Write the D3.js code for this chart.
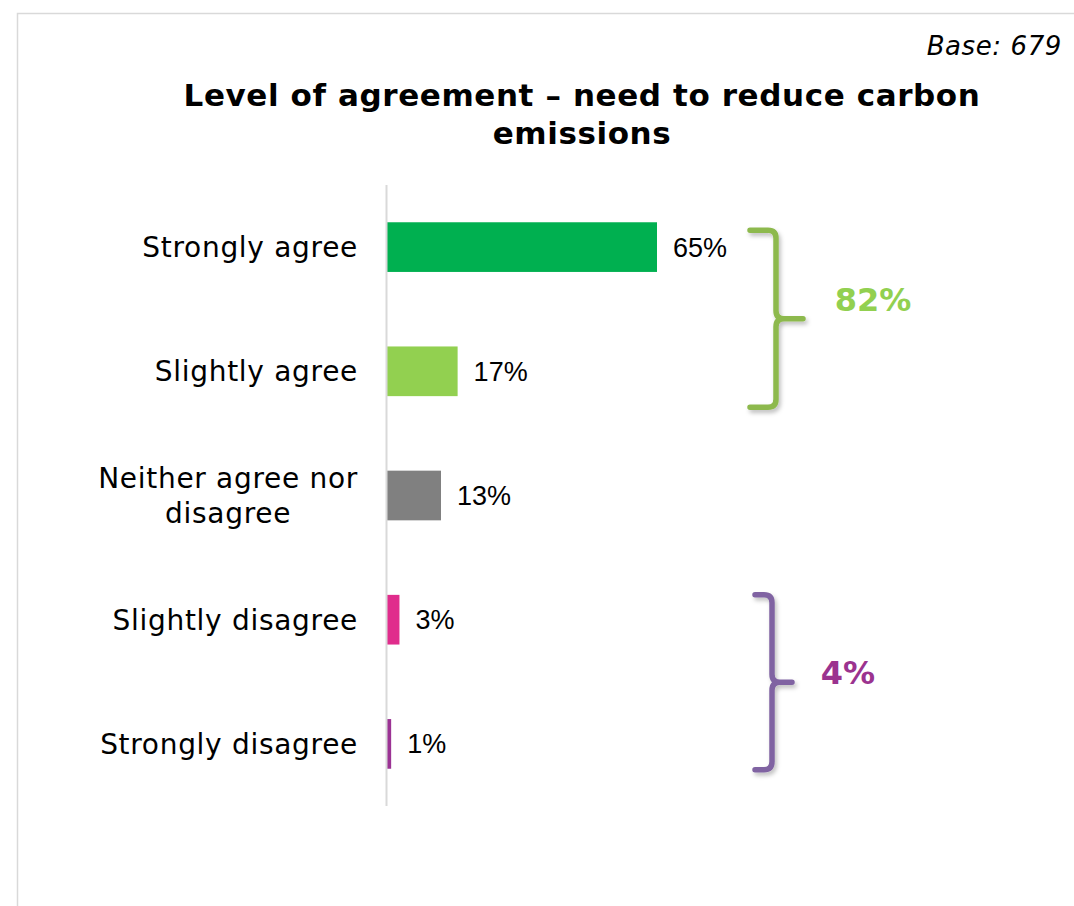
<!DOCTYPE html>
<html><head><meta charset="utf-8">
<script src="https://cdn.jsdelivr.net/npm/d3@7"></script>
<style>body{margin:0;background:#fff}svg{display:block}</style>
</head><body>
<svg id="c" width="1074" height="906"></svg>
<script>
const categories = ["Strongly agree","Slightly agree","Neither agree nor|disagree","Slightly disagree","Strongly disagree"];
const values = [65,17,13,3,1];
const barColors = ["#00B050","#92D050","#808080","#E02C8C","#9B3394"];
const groups = [
  {label:"82%", from:0, to:1, color:"#8DB94E", textColor:"#92D050"},
  {label:"4%", from:3, to:4, color:"#8064A2", textColor:"#9B338F"}
];
const title = ["Level of agreement \u2013 need to reduce carbon","emissions"];
const baseText = "Base: 679";

const svg = d3.select("#c");
// frame
svg.append("path").attr("d","M17.5,906 V13.5 H1074").attr("fill","none").attr("stroke","#d9d9d9").attr("stroke-width",1.5);

const x = d3.scaleLinear().domain([0,65]).range([387,657]);
const y = d3.scaleBand().domain(d3.range(categories.length)).range([185,806]).paddingInner(0.6).paddingOuter(0.3);

svg.append("text").attr("x",1062).attr("y",55).attr("text-anchor","end")
  .attr("font-family","DejaVu Sans").attr("font-style","italic").attr("font-size",26).attr("letter-spacing",0.6).text(baseText);

svg.selectAll(".t").data(title).enter().append("text")
  .attr("x",582).attr("y",(d,i)=>106+i*38).attr("text-anchor","middle")
  .attr("font-family","DejaVu Sans").attr("font-weight","bold").attr("font-size",31).attr("letter-spacing",0.6).text(d=>d);

// bars
svg.selectAll(".bar").data(values).enter().append("rect")
  .attr("x",x(0)).attr("y",(d,i)=>y(i)).attr("width",d=>x(d)-x(0)).attr("height",y.bandwidth())
  .attr("fill",(d,i)=>barColors[i]);

// axis line
svg.append("line").attr("x1",386.5).attr("x2",386.5).attr("y1",185).attr("y2",806).attr("stroke","#d9d9d9").attr("stroke-width",2);

// value labels
svg.selectAll(".val").data(values).enter().append("text")
  .attr("x",d=>x(d)+16).attr("y",(d,i)=>y(i)+y.bandwidth()/2).attr("dy","0.35em")
  .attr("font-family","Liberation Sans").attr("font-size",27).text(d=>d+"%");

// category labels
categories.forEach((c,i)=>{
  const lines = c.split("|");
  const cy = y(i)+y.bandwidth()/2;
  const g = svg.append("g");
  const t = g.selectAll("text").data(lines).enter().append("text")
    .attr("font-family","DejaVu Sans").attr("font-size",28).attr("letter-spacing",0.7)
    .attr("y",(d,j)=>cy+(j-(lines.length-1)/2)*35).attr("dy","0.35em").text(d=>d);
  let mw = 0; t.each(function(){mw=Math.max(mw,this.getComputedTextLength());});
  t.attr("x",358-mw/2).attr("text-anchor","middle");
});

// brackets
const defs = svg.append("defs");
const f = defs.append("filter").attr("id","sh").attr("x","-50%").attr("y","-50%").attr("width","200%").attr("height","200%");
f.append("feDropShadow").attr("dx",2).attr("dy",3).attr("stdDeviation",2).attr("flood-color","#000").attr("flood-opacity",0.25);

const bracketGeom = [
  {vx:776, left:750, nub:803, topOff:8, botOff:11, lx:70, ly:-19},
  {vx:772, left:755, nub:792, topOff:0, botOff:1, lx:56, ly:-10}
];
groups.forEach((g,k)=>{
  const b = bracketGeom[k];
  const top = y(g.from)+b.topOff;
  const bot = y(g.to)+y.bandwidth()+b.botOff;
  const mid = (top+bot)/2;
  const vx = b.vx, left = b.left, nub = b.nub;
  const r = 8;
  const d = `M${left},${top} H${vx-r} Q${vx},${top} ${vx},${top+r} V${mid-r} Q${vx},${mid} ${vx+r},${mid} H${nub} M${vx+r},${mid} Q${vx},${mid} ${vx},${mid+r} V${bot-r} Q${vx},${bot} ${vx-r},${bot} H${left}`;
  svg.append("path").attr("d",d).attr("fill","none").attr("stroke",g.color).attr("stroke-width",5.5)
    .attr("stroke-linecap","round").attr("filter","url(#sh)");
  svg.append("text").attr("x",nub+b.lx).attr("y",mid+b.ly).attr("dy","0.35em").attr("text-anchor","middle")
    .attr("font-family","DejaVu Sans").attr("font-weight","bold").attr("font-size",32).attr("fill",g.textColor).text(g.label);
});
</script>
</body></html>
